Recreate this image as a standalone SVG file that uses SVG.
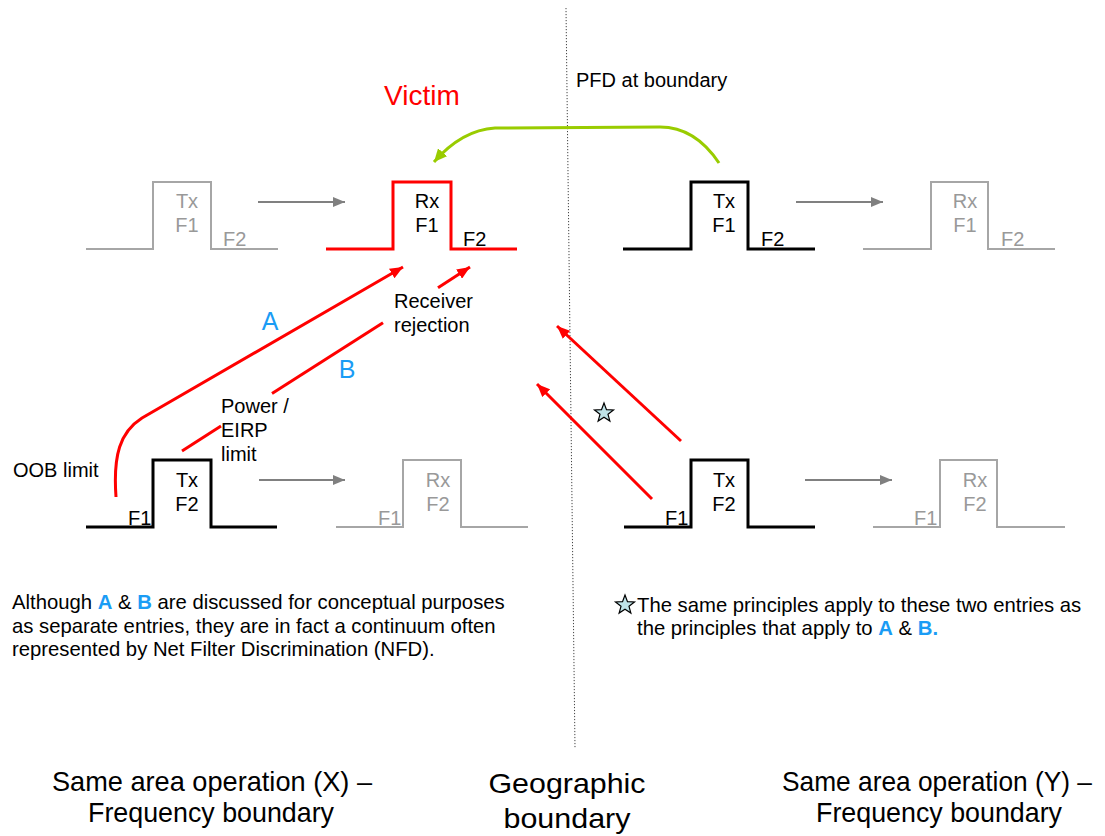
<svg xmlns="http://www.w3.org/2000/svg" width="1105" height="836" viewBox="0 0 1105 836">
<style>
text{font-family:"Liberation Sans",Arial,sans-serif;font-size:20px;fill:#000}
.g{fill:#999}
.mid{text-anchor:middle}
.para{font-size:20.3px}
.pg{fill:none;stroke:#a6a6a6;stroke-width:2}
.pk{fill:none;stroke:#000;stroke-width:3}
.pr{fill:none;stroke:#ff0000;stroke-width:3}
.ga{fill:none;stroke:#808080;stroke-width:2}
.ra{fill:none;stroke:#ff0000;stroke-width:3}
.gr{fill:none;stroke:#99cc00;stroke-width:3}
.blue{fill:#1a9cf5}
.big{font-size:28px}
.star{fill:#bfe3e8;stroke:#000;stroke-width:1.2}
</style>
<defs>
<marker id="mg" viewBox="0 0 12 10" refX="12" refY="5" markerWidth="12" markerHeight="10" orient="auto" markerUnits="userSpaceOnUse"><path d="M0,0 L12,5 L0,10 z" fill="#808080"/></marker>
<marker id="mr" viewBox="0 0 13 11" refX="13" refY="5.5" markerWidth="13" markerHeight="11" orient="auto" markerUnits="userSpaceOnUse"><path d="M0,0 L13,5.5 L0,11 z" fill="#ff0000"/></marker>
<marker id="mgr" viewBox="0 0 13 12" refX="13" refY="6" markerWidth="13" markerHeight="12" orient="auto" markerUnits="userSpaceOnUse"><path d="M0,0 L13,6 L0,12 z" fill="#99cc00"/></marker>
<path id="star" d="M0,-10 L2.47,-3.4 L9.51,-3.09 L3.99,1.3 L5.88,8.09 L0,4.2 L-5.88,8.09 L-3.99,1.3 L-9.51,-3.09 L-2.47,-3.4 Z"/>
</defs>

<line x1="566" y1="8" x2="575" y2="748" stroke="#444" stroke-width="1" stroke-dasharray="1.2,1.8"/>

<g id="pfd-label"><text x="576" y="87">PFD at boundary</text></g>
<g id="victim-label"><text x="384" y="105" style="font-size:28px;fill:#ff0000">Victim</text></g>

<g id="x-tx-f1">
<path class="pg" d="M86,249 H153 V182 H211 V249 H278"/>
<text class="g mid" x="187" y="208">Tx</text>
<text class="g mid" x="187" y="232">F1</text>
<text class="g" x="223" y="246">F2</text>
</g>
<g id="x-rx-f1">
<path class="pr" d="M326,249 H393 V182 H451 V249 H517"/>
<text class="mid" x="427" y="208">Rx</text>
<text class="mid" x="427" y="232">F1</text>
<text x="463" y="246">F2</text>
</g>
<g id="y-tx-f1">
<path class="pk" d="M623,249 H691 V182 H748 V249 H815"/>
<text class="mid" x="724" y="208">Tx</text>
<text class="mid" x="724" y="232">F1</text>
<text x="761" y="246">F2</text>
</g>
<g id="y-rx-f1">
<path class="pg" d="M863,249 H931 V182 H988 V249 H1055"/>
<text class="g mid" x="965" y="208">Rx</text>
<text class="g mid" x="965" y="232">F1</text>
<text class="g" x="1001" y="246">F2</text>
</g>
<g id="x-tx-f2">
<path class="pk" d="M86,527 H153 V460 H211 V527 H277"/>
<text class="mid" x="187" y="487">Tx</text>
<text class="mid" x="187" y="511">F2</text>
<text x="128" y="525">F1</text>
</g>
<g id="x-rx-f2">
<path class="pg" d="M336,527 H403 V460 H461 V527 H528"/>
<text class="g mid" x="438" y="487">Rx</text>
<text class="g mid" x="438" y="511">F2</text>
<text class="g" x="378" y="525">F1</text>
</g>
<g id="y-tx-f2">
<path class="pk" d="M624,527 H691 V460 H748 V527 H815"/>
<text class="mid" x="724" y="487">Tx</text>
<text class="mid" x="724" y="511">F2</text>
<text x="665" y="525">F1</text>
</g>
<g id="y-rx-f2">
<path class="pg" d="M873,527 H940 V460 H997 V527 H1065"/>
<text class="g mid" x="975" y="487">Rx</text>
<text class="g mid" x="975" y="511">F2</text>
<text class="g" x="914" y="525">F1</text>
</g>

<g id="connectors">
<line class="ga" x1="258" y1="202" x2="345" y2="202" marker-end="url(#mg)"/>
<line class="ga" x1="796" y1="202" x2="883" y2="202" marker-end="url(#mg)"/>
<line class="ga" x1="259" y1="480" x2="345" y2="480" marker-end="url(#mg)"/>
<line class="ga" x1="805" y1="480" x2="892" y2="480" marker-end="url(#mg)"/>
<path class="gr" d="M719,163 Q695,127 660,127 L495,128 Q462,130 434,162" marker-end="url(#mgr)"/>
<path class="ra" d="M116,497 C113,455 120,432 142,418 L403,267" marker-end="url(#mr)"/>
<line class="ra" x1="182" y1="451" x2="221" y2="426"/>
<line class="ra" x1="272" y1="393.6" x2="383" y2="322.8"/>
<line class="ra" x1="438" y1="287.7" x2="470" y2="267" marker-end="url(#mr)"/>
<line class="ra" x1="681" y1="441" x2="557" y2="326" marker-end="url(#mr)"/>
<line class="ra" x1="652" y1="499" x2="537" y2="384" marker-end="url(#mr)"/>
</g>

<g id="labels">
<text x="270" y="330" class="blue mid" style="font-size:25px">A</text>
<text x="347" y="378" class="blue mid" style="font-size:25px">B</text>
<text x="394" y="308">Receiver</text>
<text x="394" y="332">rejection</text>
<text x="221" y="413">Power /</text>
<text x="221" y="437">EIRP</text>
<text x="221" y="461">limit</text>
<text x="13" y="477">OOB limit</text>
<use href="#star" class="star" x="604" y="413"/>
</g>

<g id="note-left">
<text class="para" x="12" y="609">Although <tspan class="blue" font-weight="bold">A</tspan> &amp; <tspan class="blue" font-weight="bold">B</tspan> are discussed for conceptual purposes</text>
<text class="para" x="12" y="633">as separate entries, they are in fact a continuum often</text>
<text class="para" x="12" y="656">represented by Net Filter Discrimination (NFD).</text>
</g>
<g id="note-right">
<use href="#star" class="star" x="625" y="605"/>
<text class="para" x="637" y="612">The same principles apply to these two entries as</text>
<text class="para" x="637" y="635">the principles that apply to <tspan class="blue" font-weight="bold">A</tspan> &amp; <tspan class="blue" font-weight="bold">B.</tspan></text>
</g>

<g id="captions">
<text class="big mid" x="212" y="791" textLength="320" lengthAdjust="spacingAndGlyphs">Same area operation (X) –</text>
<text class="big mid" x="211" y="822" textLength="246" lengthAdjust="spacingAndGlyphs">Frequency boundary</text>
<text class="big mid" x="567" y="793" textLength="157" lengthAdjust="spacingAndGlyphs">Geographic</text>
<text class="big mid" x="567" y="828" textLength="127" lengthAdjust="spacingAndGlyphs">boundary</text>
<text class="big mid" x="937" y="791" textLength="310" lengthAdjust="spacingAndGlyphs">Same area operation (Y) –</text>
<text class="big mid" x="939" y="822" textLength="246" lengthAdjust="spacingAndGlyphs">Frequency boundary</text>
</g>
</svg>
